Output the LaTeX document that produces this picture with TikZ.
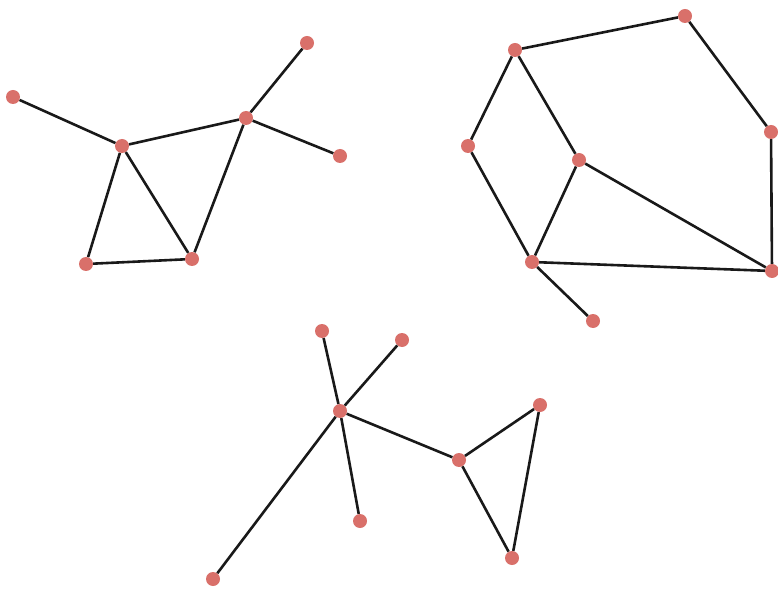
\documentclass[tikz,border=0pt]{standalone}
\usepackage{tikz}
\definecolor{dotred}{HTML}{D9706A}
\begin{document}
\begin{tikzpicture}[x=1pt,y=-1pt,
dot/.style={circle,fill=dotred,inner sep=0pt,minimum size=14pt},
e/.style={line width=2.6pt,black!90}]
\useasboundingbox (0,0) rectangle (778,593);
% left graph
\node[dot] (a1) at (13,97) {}; \node[dot] (a2) at (122,146) {}; \node[dot] (a3) at (246,118) {};
\node[dot] (a4) at (307,43) {}; \node[dot] (a5) at (340,156) {}; \node[dot] (a6) at (86,264) {};
\node[dot] (a7) at (192,259) {};
% right graph
\node[dot] (b1) at (515,50) {}; \node[dot] (b2) at (685,16) {}; \node[dot] (b3) at (771,132) {};
\node[dot] (b4) at (468,146) {}; \node[dot] (b5) at (579,160) {}; \node[dot] (b6) at (532,262) {};
\node[dot] (b7) at (772,271) {}; \node[dot] (b8) at (593,321) {};
% bottom graph
\node[dot] (c1) at (322,331) {}; \node[dot] (c2) at (402,340) {}; \node[dot] (c3) at (340,411) {};
\node[dot] (c4) at (540,405) {}; \node[dot] (c5) at (459,460) {}; \node[dot] (c6) at (360,521) {};
\node[dot] (c7) at (512,558) {}; \node[dot] (c8) at (213,579) {};
\draw[e] (a1)--(a2); \draw[e] (a2)--(a3); \draw[e] (a3)--(a4); \draw[e] (a3)--(a5);
\draw[e] (a2)--(a6); \draw[e] (a2)--(a7); \draw[e] (a6)--(a7); \draw[e] (a3)--(a7);
\draw[e] (b1)--(b2); \draw[e] (b2)--(b3); \draw[e] (b3)--(b7); \draw[e] (b1)--(b4); \draw[e] (b1)--(b5);
\draw[e] (b4)--(b6); \draw[e] (b5)--(b6); \draw[e] (b5)--(b7); \draw[e] (b6)--(b7); \draw[e] (b6)--(b8);
\draw[e] (c1)--(c3); \draw[e] (c2)--(c3); \draw[e] (c3)--(c8); \draw[e] (c3)--(c6);
\draw[e] (c3)--(c5); \draw[e] (c5)--(c4); \draw[e] (c4)--(c7); \draw[e] (c5)--(c7);
\end{tikzpicture}
\end{document}
